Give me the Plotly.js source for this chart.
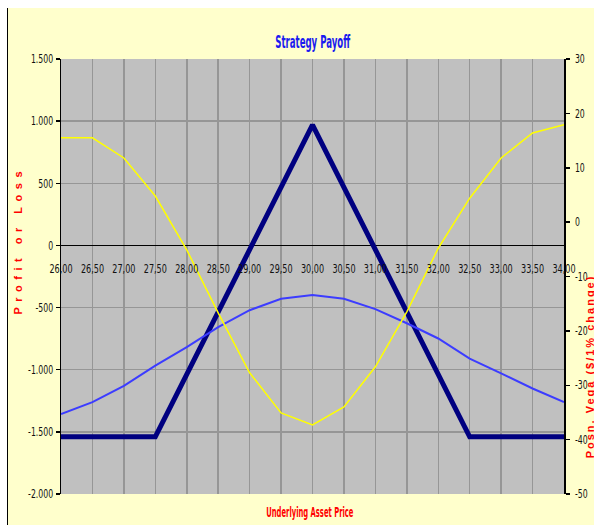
<!DOCTYPE html>
<html>
<head>
<meta charset="utf-8">
<script src="https://cdn.plot.ly/plotly-3.0.1.min.js"></script>
<style>
  html, body { margin: 0; padding: 0; background: #ffffff; width: 594px; height: 525px; overflow: hidden; }
  #frame { position: absolute; left: 7px; top: 8px; width: 587px; height: 517px; border-left: 1px solid #000; box-sizing: border-box; background: #FFFFCC; }
  #chart { position: absolute; left: 1px; top: 0; width: 586px; height: 517px; }
</style>
</head>
<body>
<div id="frame"><div id="chart"></div></div>
<script>
// Underlying asset price (x categories)
const prices = [26.00, 26.50, 27.00, 27.50, 28.00, 28.50, 29.00, 29.50, 30.00, 30.50, 31.00, 31.50, 32.00, 32.50, 33.00, 33.50, 34.00];
// Strategy payoff (left axis, Profit or Loss)
const payoff = [-1540, -1540, -1540, -1540, -1038, -536, -34, 468, 970, 468, -34, -536, -1038, -1540, -1540, -1540, -1540];
// Position vega (right axis)
const vega = [-35.3, -33.1, -30.1, -26.4, -23.0, -19.3, -16.2, -14.1, -13.4, -14.1, -16.0, -18.6, -21.4, -25.1, -27.8, -30.6, -33.1];
// Second right-axis series (yellow)
const yellowSeries = [15.5, 15.5, 11.8, 4.8, -5.1, -16.7, -27.7, -35.1, -37.3, -34.0, -26.6, -16.5, -4.8, 4.4, 11.8, 16.4, 17.9];

// Tick labels
const leftTickVals = [1500, 1000, 500, 0, -500, -1000, -1500, -2000];
const leftTickText = ["1.500", "1.000", "500", "0", "-500", "-1.000", "-1.500", "-2.000"];
const rightTickVals = [30, 20, 10, 0, -10, -20, -30, -40, -50];
const rightTickText = ["30", "20", "10", "0", "-10", "-20", "-30", "-40", "-50"];

const narrow = "Liberation Sans Narrow, DejaVu Sans Condensed, Arial Narrow, sans-serif";
const wide = "Liberation Sans, Arial, sans-serif";

const traces = [
  { x: prices, y: payoff, type: "scatter", mode: "lines", name: "Payoff",
    line: { color: "#000080", width: 5 }, yaxis: "y", xaxis: "x" },
  { x: prices, y: vega, type: "scatter", mode: "lines", name: "Posn. Vega",
    line: { color: "#3C3CFF", width: 2 }, yaxis: "y2", xaxis: "x" },
  { x: prices, y: yellowSeries, type: "scatter", mode: "lines", name: "Series 3",
    line: { color: "#FFFF00", width: 1.5 }, yaxis: "y2", xaxis: "x" }
];

const layout = {
  width: 586, height: 517,
  margin: { l: 52, r: 31, t: 51, b: 31 },
  paper_bgcolor: "#FFFFCC",
  plot_bgcolor: "#C0C0C0",
  showlegend: false,
  separators: ",.",
  title: { text: "<b>Strategy Payoff</b>", font: { family: narrow, size: 18, color: "#1a1aF0" },
           x: 0.5, xref: "paper", xanchor: "center", y: 1 - 34 / 517, yref: "container", yanchor: "middle" },
  xaxis: {
    range: [26, 34], dtick: 0.5, tick0: 26, tickformat: ".2f", tickangle: 0,
    anchor: "free", position: (494 - 246) / 435,
    showgrid: true, gridcolor: "#969696", gridwidth: 1.5,
    zeroline: false, showline: false, ticks: "", ticklabelstandoff: 14,
    tickfont: { family: narrow, size: 12, color: "#111111" }
  },
  yaxis: {
    range: [-2000, 1500], tickvals: leftTickVals, ticktext: leftTickText,
    showgrid: true, gridcolor: "#969696", gridwidth: 1.5,
    zeroline: true, zerolinecolor: "#000000", zerolinewidth: 1.5,
    showline: true, linecolor: "#000000", linewidth: 1.5,
    ticks: "outside", ticklen: 4, tickcolor: "#000000", tickwidth: 1.5,
    tickfont: { family: narrow, size: 12, color: "#111111" }
  },
  yaxis2: {
    range: [-50, 30], tickvals: rightTickVals, ticktext: rightTickText,
    overlaying: "y", side: "right", showgrid: false, zeroline: false,
    showline: true, linecolor: "#000000", linewidth: 1.5,
    ticks: "outside", ticklen: 4, tickcolor: "#000000", tickwidth: 1.5, ticklabelstandoff: 3,
    tickfont: { family: narrow, size: 12, color: "#111111" }
  },
  annotations: [
    { text: "<b>Profit or Loss</b>", textangle: -90, xref: "paper", yref: "paper",
      x: (17 - 60) / 503, y: (494 - 240) / 435, xanchor: "center", yanchor: "middle", showarrow: false,
      font: { family: wide, size: 11, color: "#FF0000" } },
    { text: "<b>Posn. Vega ($/1% change)</b>", textangle: -90, xref: "paper", yref: "paper",
      x: (588.5 - 60) / 503, y: (494 - 367) / 435, xanchor: "center", yanchor: "middle", showarrow: false,
      font: { family: wide, size: 11, color: "#FF0000" } },
    { text: "<b>Underlying Asset Price</b>", xref: "paper", yref: "paper",
      x: (308.5 - 60) / 503, y: (494 - 512) / 435, xanchor: "center", yanchor: "middle", showarrow: false,
      font: { family: narrow, size: 14, color: "#FF0000" } }
  ]
};

// Horizontal squeeze of a text element about a chosen anchor (keeps it real text)
function squeeze(el, s, anchor) {
  const bb = el.getBBox();
  const cx = anchor === "start" ? bb.x : anchor === "end" ? bb.x + bb.width : bb.x + bb.width / 2;
  const t = el.getAttribute("transform") || "";
  el.setAttribute("transform", t + " translate(" + cx + ",0) scale(" + s + ",1) translate(" + (-cx) + ",0)");
}
// Spread letters of a text element while keeping it centred
function spread(el, px) {
  const b0 = el.getBBox();
  el.style.letterSpacing = px + "px";
  const b1 = el.getBBox();
  const dx = (b0.x + b0.width / 2) - (b1.x + b1.width / 2);
  const t = el.getAttribute("transform") || "";
  el.setAttribute("transform", t + " translate(" + dx + ",0)");
}

Plotly.newPlot("chart", traces, layout, { displayModeBar: false, staticPlot: true }).then(function (gd) {
  const root = document.getElementById("chart");
  const title = root.querySelector(".gtitle");
  if (title) squeeze(title, 0.53, "center");
  root.querySelectorAll(".xtick text").forEach(function (t) { squeeze(t, 0.75, "center"); });
  root.querySelectorAll(".ytick text").forEach(function (t) { squeeze(t, 0.72, "end"); });
  root.querySelectorAll(".y2tick text").forEach(function (t) { squeeze(t, 0.72, "start"); });
  root.querySelectorAll(".annotation-text").forEach(function (t) {
    const s = t.textContent;
    if (s.indexOf("Underlying") === 0) squeeze(t, 0.54, "center");
    else if (s.indexOf("Profit") === 0) spread(t, 5.5);
    else if (s.indexOf("Posn") === 0) spread(t, 2);
  });
});
</script>
</body>
</html>
